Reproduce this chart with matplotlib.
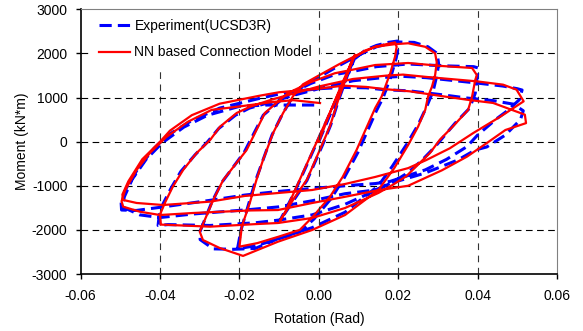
import matplotlib
matplotlib.use("Agg")
import matplotlib.pyplot as plt

plt.rcParams['font.family'] = ['Liberation Sans', 'DejaVu Sans']

# experiment (UCSD3R): rotation (rad), moment (kN*m)
exp_rot = [0.0, 0.003, 0.006, 0.0085, 0.0093,
           0.0072, 0.005, 0.003, 0.001, -0.003, -0.0065, -0.0100,
           -0.0088, -0.006, -0.003, 0.0, 0.0035, 0.0065, 0.0088,
           0.0118, 0.0145, 0.0175, 0.0198,
           0.0200, 0.0195, 0.0183, 0.0162, 0.0145, 0.0098, 0.0062, 0.003, -0.0012, -0.0048, -0.010, -0.0155, -0.0205,
           -0.0196, -0.0178, -0.0160, -0.0142, -0.0118, -0.0092, -0.0067, -0.004, 0.0, 0.005, 0.010, 0.0145, 0.0195,
           0.0240, 0.0275, 0.0298, 0.0302,
           0.0296, 0.0288, 0.0272, 0.0250, 0.0222, 0.0185, 0.0150, 0.0066, -0.0017, -0.0103, -0.0160, -0.0215,
           -0.0266, -0.0299, -0.0300,
           -0.0270, -0.0245, -0.0188, -0.0140, -0.0080, -0.002, 0.004, 0.0090, 0.0145, 0.0225, 0.031, 0.0390, 0.0402,
           0.0398, 0.0394, 0.0380, 0.0343, 0.0293, 0.0260, 0.0225, 0.0190, 0.0150, 0.0066, -0.0017, -0.0103, -0.0161,
           -0.0274, -0.0380, -0.0405,
           -0.0402, -0.0392, -0.0372, -0.0348, -0.0312, -0.0280, -0.0252, -0.0210, -0.0175, -0.012, -0.006, 0.0,
           0.0086, 0.017, 0.0212, 0.0271, 0.0397, 0.0464, 0.0500, 0.0512,
           0.0505, 0.0475, 0.0448, 0.040, 0.0373, 0.0322, 0.0268, 0.0180, 0.0142, 0.0066, -0.0017, -0.0103, -0.0186,
           -0.0274, -0.0393, -0.0460, -0.0497,
           -0.0498, -0.0485, -0.0455, -0.0415, -0.038, -0.032, -0.025, -0.015, -0.010, -0.005, 0.0, 0.0061, 0.012,
           0.0162, 0.0229, 0.0313, 0.0372, 0.0439, 0.0490, 0.0515,
           0.0508, 0.0470, 0.0423, 0.0394, 0.0350, 0.0268, 0.0180, 0.0142, 0.0066, -0.0017, -0.0103, -0.0175,
           -0.0317, -0.0400, -0.0451, -0.0495,
           -0.0490, -0.0470, -0.0435, -0.0395, -0.034, -0.028, -0.020, -0.013, 0.0]
exp_mom = [0, 650, 1300, 1820, 1950,
           1500, 950, 380, -60, -880, -1350, -1820,
           -1620, -1120, -520, 80, 780, 1380, 1860,
           2080, 2180, 2250, 2280,
           2150, 1900, 1520, 1000, 700, -250, -850, -1300, -1750, -2050, -2200, -2350, -2430,
           -2000, -1450, -900, -450, 150, 620, 1000, 1260, 1460, 1720, 1960, 2150, 2260,
           2250, 2150, 2000, 1750,
           1450, 1150, 800, 380, -50, -560, -1000, -1600, -1950, -2200, -2420, -2440,
           -2430, -2220, -2050,
           -1380, -930, -240, 600, 1060, 1320, 1520, 1600, 1700, 1760, 1720, 1700, 1670,
           1400, 1096, 760, 416, -114, -420, -700, -900, -1080, -1420, -1660, -1780, -1840,
           -1900, -1880, -1900,
           -1650, -1400, -1050, -680, -300, 0, 300, 600, 760, 900, 1060, 1200,
           1380, 1460, 1480, 1450, 1330, 1260, 1200, 1170,
           950, 700, 520, 150, -114, -400, -640, -900, -950, -1000, -1060, -1130, -1210,
           -1330, -1480, -1560, -1550,
           -1400, -1050, -600, -150, 150, 480, 760, 980, 1080, 1150, 1200, 1230, 1220,
           1180, 1150, 1060, 990, 930, 850, 700,
           500, 150, -120, -190, -416, -711, -945, -1096, -1180, -1340, -1480, -1540,
           -1640, -1720, -1660, -1480,
           -1250, -850, -400, -30, 330, 600, 800, 830, 830]

# NN based connection model
nn_rot = [0.0, 0.003, 0.006, 0.0085, 0.0091,
          0.007, 0.0049, 0.0028, 0.001, -0.003, -0.0065, -0.0098,
          -0.0085, -0.006, -0.003, 0.0, 0.0035, 0.0065, 0.0085,
          0.0115, 0.0142, 0.0175, 0.0192,
          0.0196, 0.0192, 0.018, 0.0158, 0.0142, 0.0095, 0.006, 0.0028, -0.0015, -0.0048, -0.010, -0.0155, -0.0200,
          -0.0194, -0.0174, -0.0157, -0.014, -0.0115, -0.009, -0.0065, -0.004, 0.0, 0.005, 0.01, 0.0142, 0.0192,
          0.0225, 0.0268, 0.0293, 0.0297,
          0.0293, 0.0285, 0.0275, 0.0268, 0.025, 0.0225, 0.019, 0.015, 0.0066, -0.0017, -0.0103, -0.0191,
          -0.025, -0.0292, -0.030,
          -0.0266, -0.0241, -0.0182, -0.0136, -0.0078, -0.002, 0.004, 0.0086, 0.0142, 0.0225, 0.031, 0.0386, 0.0398,
          0.0394, 0.0386, 0.0376, 0.0338, 0.0305, 0.028, 0.0254, 0.022, 0.0187, 0.015, 0.0066, -0.0017, -0.0103,
          -0.0161, -0.0274, -0.0375, -0.0398,
          -0.0400, -0.0388, -0.0368, -0.0342, -0.0308, -0.0274, -0.0249, -0.0207, -0.0173, -0.012, -0.006, 0.0,
          0.0086, 0.017, 0.0212, 0.0271, 0.0397, 0.0464, 0.0498, 0.0516,
          0.049, 0.0457, 0.0389, 0.033, 0.027, 0.0225, 0.0142, 0.0066, -0.0017, -0.0103, -0.0186,
          -0.0274, -0.0393, -0.0459, -0.0493,
          -0.0495, -0.048, -0.0445, -0.040, -0.0375, -0.032, -0.025, -0.015, -0.01, -0.005, 0.0, 0.0061, 0.012,
          0.0162, 0.0229, 0.0313, 0.0372, 0.0439, 0.0519, 0.0522,
          0.047, 0.0423, 0.0373, 0.031, 0.0225, 0.015, 0.0066, -0.0017, -0.0103, -0.0175,
          -0.0317, -0.040, -0.0451, -0.0493, -0.0497,
          -0.0488, -0.046, -0.0425, -0.0385, -0.033, -0.027, -0.0198, -0.0115, -0.0064, 0.0003]
nn_mom = [0, 700, 1350, 1850, 1970,
          1480, 950, 350, -30, -860, -1320, -1800,
          -1600, -1100, -500, 100, 800, 1400, 1880,
          2060, 2150, 2220, 2250,
          2150, 1925, 1556, 1019, 763, -190, -800, -1250, -1700, -2000, -2150, -2300, -2380,
          -1920, -1390, -860, -400, 200, 650, 1030, 1300, 1500, 1750, 1980, 2150, 2210,
          2230, 2150, 2000, 1800,
          1511, 1246, 1019, 718, 340, -77, -600, -1096, -1663, -2003, -2268, -2590,
          -2410, -2230, -2041,
          -1320, -870, -190, 650, 1100, 1350, 1550, 1633, 1737, 1783, 1715, 1670, 1510,
          1397, 1019, 718, 348, 45, -257, -484, -786, -975, -1163, -1504, -1730, -1844,
          -1870, -1927, -1890, -1880,
          -1650, -1390, -1021, -643, -258, 37, 339, 650, 792, 950, 1100, 1250,
          1421, 1497, 1520, 1467, 1368, 1292, 1179, 914,
          760, 565, 195, -150, -420, -600, -800, -960, -1096, -1163, -1230,
          -1360, -1436, -1390, -1322,
          -1200, -900, -400, 0, 250, 600, 860, 1040, 1120, 1160, 1200, 1270, 1240,
          1194, 1141, 1028, 952, 877, 612, 420,
          264, -33, -341, -650, -1000, -1100, -1250, -1391, -1550, -1560,
          -1617, -1663, -1588, -1474, -1350,
          -1100, -650, -250, 100, 450, 720, 800, 900, 940, 875]

x_ticks = [-0.06, -0.04, -0.02, 0.0, 0.02, 0.04, 0.06]
y_ticks = [-3000, -2000, -1000, 0, 1000, 2000, 3000]

fig = plt.figure(figsize=(5.83, 3.31), dpi=100)
ax = fig.add_axes([0.1384, 0.1722, 0.817, 0.7997])

# dashed grid on the inner ticks only (the 0.00 line stays in front of the legend box)
for xv in x_ticks[1:-1]:
    ax.axvline(xv, color='#333333', lw=0.8, ls=(0, (6, 5)),
               zorder=6 if xv == 0.0 else 1)
for yv in y_ticks[1:-1]:
    ax.axhline(yv, color='black', lw=0.8, ls=(0, (6, 4)), zorder=1)

ax.plot(exp_rot, exp_mom, color='#0000ff', lw=2.2, dashes=(4, 2),
        label='Experiment(UCSD3R)', zorder=2)
ax.plot(nn_rot, nn_mom, color='#ff0000', lw=1.6,
        label='NN based Connection Model', zorder=3)

ax.set_xlim(-0.06, 0.06)
ax.set_ylim(-3000, 3000)
ax.set_xticks(x_ticks)
ax.set_yticks(y_ticks)
ax.set_xticklabels(['%.2f' % v for v in x_ticks])
ax.set_yticklabels(['%d' % v for v in y_ticks])
ax.tick_params(direction='out', length=3.5, width=1, labelsize=10)
ax.tick_params(axis='y', pad=6)
ax.tick_params(axis='x', pad=7)

ax.spines['left'].set_color('black')
ax.spines['bottom'].set_color('black')
ax.spines['left'].set_linewidth(1.2)
ax.spines['bottom'].set_linewidth(1.2)
ax.spines['top'].set_color('#808080')
ax.spines['right'].set_color('#808080')

ax.set_xlabel('Rotation (Rad)', fontsize=10, labelpad=7)
ax.set_ylabel('Moment (kN*m)', fontsize=10, labelpad=2)

# opaque legend box without border, hides the grid behind it
leg = ax.legend(loc='upper left', frameon=True, fontsize=10, handlelength=2.2,
                handletextpad=0.35, labelspacing=0.9, borderaxespad=0.0,
                borderpad=0.6, fancybox=False,
                bbox_to_anchor=(0.021, 0.995))
leg.get_frame().set_facecolor('white')
leg.get_frame().set_edgecolor('none')
leg.get_frame().set_alpha(1.0)
leg.set_zorder(5)

fig.savefig('out.png', dpi=100, facecolor='white')
